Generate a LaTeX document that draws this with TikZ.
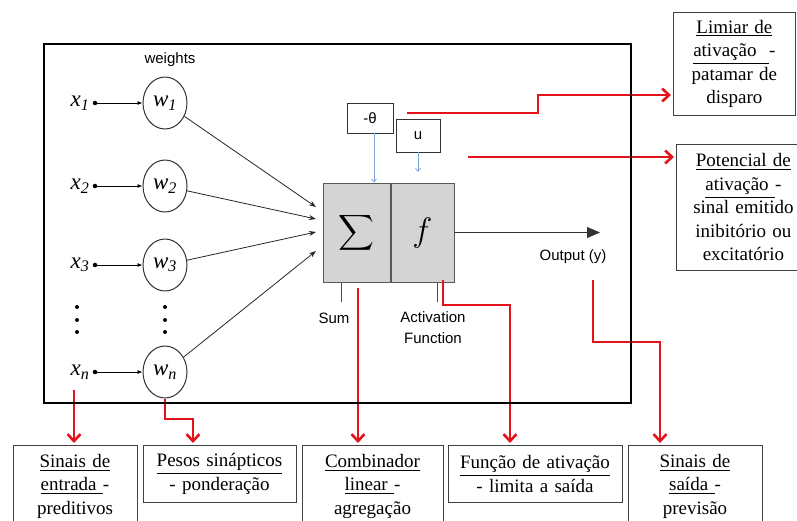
\RequirePackage{fix-cm}
\documentclass[tikz,border=0pt]{standalone}
\usepackage{amsmath}
\usepackage{fontspec}
\setmainfont{Liberation Serif}
\setsansfont{Liberation Sans}
\usepackage{xcolor}
\usepackage{tikz}
\usetikzlibrary{arrows.meta,positioning,shapes.geometric}
\definecolor{sigred}{HTML}{E4131B}
\definecolor{parblue}{HTML}{7FA6D8}
\definecolor{procgray}{HTML}{D4D4D4}
\newcommand{\invar}[2]{\textit{#1}\textsubscript{\textit{#2}}}

\begin{document}
\begin{tikzpicture}[
  x=1pt, y=-1pt,
  every node/.style={font=\sffamily\fontsize{15}{20}\selectfont},
  wnode/.style={ellipse, draw=black!80, line width=1pt, minimum width=44pt,
    minimum height=52pt, inner sep=0pt, font=\rmfamily\fontsize{23}{26}\selectfont},
  dot/.style={circle, fill=black, inner sep=1.6pt},
  inlbl/.style={font=\rmfamily\fontsize{23}{26}\selectfont, inner sep=1pt},
  procbox/.style={draw=black!65, fill=procgray, line width=1pt, minimum height=99pt},
  parbox/.style={draw=black!80, line width=0.8pt, inner sep=0pt},
  descbox/.style={draw=black!75, line width=0.8pt, inner xsep=0pt, align=center,
    font=\rmfamily\fontsize{19}{23.5}\selectfont},
  inarr/.style={-{Latex[length=5pt,width=4pt]}, line width=0.8pt},
  sumarr/.style={-{Stealth[length=7pt,width=5pt]}, line width=0.8pt, black!85},
  blarr/.style={-{Straight Barb[length=3pt,width=5pt]}, parblue, line width=0.8pt},
  outarr/.style={-{Triangle[length=13pt,width=11pt]}, line width=0.8pt, black!80},
  tick/.style={black!70, line width=1pt},
  redarr/.style={-{Straight Barb[length=7pt,width=13pt]}, sigred, line width=2.6pt, shorten >=2pt}
]
  \useasboundingbox (0,0) rectangle (797,520);
  \clip (0,0) rectangle (797,520);

  % inputs and weights
  \node (wlbl) at (170,60) {weights};
  \node[wnode] (w1) at (165,103) {\invar{w}{1}};
  \node[wnode] (w2) at (165,186) {\invar{w}{2}};
  \node[wnode] (w3) at (165,265) {\invar{w}{3}};
  \node[wnode] (wn) at (165,372) {\invar{w}{n}};
  \node[dot] (d1) at (95,103) {};
  \node[dot] (d2) at (95,186) {};
  \node[dot] (d3) at (95,265) {};
  \node[dot] (dn) at (95,372) {};
  \node[inlbl] (x1) [left=2pt of d1] {\invar{x}{1}};
  \node[inlbl] (x2) [left=2pt of d2] {\invar{x}{2}};
  \node[inlbl] (x3) [left=2pt of d3] {\invar{x}{3}};
  \node[inlbl] (xn) [left=2pt of dn] {\invar{x}{n}};
  \foreach \yy in {307,320,332} {
    \fill (77,\yy) circle (2pt);
    \fill (165,\yy) circle (2pt);
  }

  \draw[inarr] (d1) -- (w1);
  \draw[inarr] (d2) -- (w2);
  \draw[inarr] (d3) -- (w3);
  \draw[inarr] (dn) -- (wn);

  % summing junction and activation
  \node[procbox, minimum width=67pt, font=\fontsize{24}{28}\selectfont] (sumbox) at (356.5,232.5) {$\displaystyle\sum$};
  \node[procbox, minimum width=63pt, font=\fontsize{34}{38}\selectfont] (fbox) [right=0pt of sumbox] {$f$};

  \coordinate (t1) at (316,207);
  \coordinate (t2) at (316,219);
  \coordinate (t3) at (316,232);
  \coordinate (t4) at (316,251);
  \draw[sumarr] (w1) -- (t1);
  \draw[sumarr] (w2) -- (t2);
  \draw[sumarr] (w3) -- (t3);
  \draw[sumarr] (wn) -- (t4);

  \node[parbox, minimum width=46pt, minimum height=30pt] (theta) at (370,118) {-θ};
  \node[parbox, minimum width=44pt, minimum height=33pt] (u) at (418,135.5) {u};
  \coordinate (uend) at (418,172);
  \draw[blarr] ([xshift=4pt]theta.south) -- ([xshift=4pt]theta.south |- sumbox.north);
  \draw[blarr] (u.south) -- (uend);

  \coordinate (yend) at (600,232.5);
  \draw[outarr] (fbox.east) -- (yend);
  \node (ylbl) at (573,257) {Output (y)};

  \coordinate (sumtick) at (341,302);
  \coordinate (acttick) at (437,302);
  \draw[tick] (sumtick |- sumbox.south) -- (sumtick);
  \draw[tick] (acttick |- fbox.south) -- (acttick);
  \node (sumlbl) at (334,318) {Sum};
  \node[align=center, font=\sffamily\fontsize{15}{21}\selectfont] (actlbl) at (433,328) {Activation\\Function};

  % description boxes
  \node[descbox, anchor=north west, text width=122pt, minimum height=103pt] (limiar) at (673,12)
    {\underline{Limiar de}\\ \underline{ativação\ \ }-\\ patamar de\\ disparo};
  \node[descbox, anchor=north west, text width=134pt, minimum height=126pt] (potencial) at (676,144)
    {\underline{Potencial de}\\ \underline{ativação\ }-\\ sinal emitido\\ inibitório ou\\ excitatório};
  \node[descbox, anchor=north, text width=124pt, minimum height=82pt] (entrada) at (75,445)
    {\underline{Sinais de}\\ \underline{entrada\ }-\\ preditivos};
  \node[descbox, anchor=north, text width=153pt, minimum height=57pt] (pesos) at (219.5,445)
    {\underline{Pesos sinápticos}\\ - ponderação};
  \node[descbox, anchor=north, text width=141pt, minimum height=82pt] (comb) at (372.5,445)
    {\underline{Combinador}\\ \underline{linear\ }-\\ agregação};
  \node[descbox, anchor=north, text width=174pt, minimum height=57pt] (funcao) at (535,445)
    {\underline{Função de ativação}\\ - limita a saída};
  \node[descbox, anchor=north, text width=134pt, minimum height=82pt] (saida) at (695,445)
    {\underline{Sinais de}\\ \underline{saída\ }-\\ previsão};

  % red pointers
  \coordinate (thrA) at (407,113);
  \coordinate (thrB) at (538,95);
  \draw[redarr] (thrA) -| (thrB) -- (thrB -| limiar.west);
  \coordinate (potA) at (468,157);
  \draw[redarr] (potA) -- (potA -| potencial.west);
  \coordinate (outA) at (593,280);
  \coordinate (outB) at (660,342);
  \draw[redarr] (outA) |- (outB) -- (outB |- saida.north);
  \coordinate (actA) at (443,280);
  \coordinate (actB) at (510,305);
  \draw[redarr] (actA) |- (actB) -- (actB |- funcao.north);
  \coordinate (sumA) at (358,288);
  \draw[redarr] (sumA) -- (sumA |- comb.north);
  \coordinate (wB) at (193,419);
  \draw[redarr] (wn.south) |- (wB) -- (wB |- pesos.north);
  \coordinate (xA) at (74,390);
  \draw[redarr] (xA) -- (xA |- entrada.north);

  % outer frame
  \node[draw, line width=2.4pt, minimum width=587pt, minimum height=359pt, inner sep=0pt] (frame) at (337.5,223.5) {};
\end{tikzpicture}
\end{document}
